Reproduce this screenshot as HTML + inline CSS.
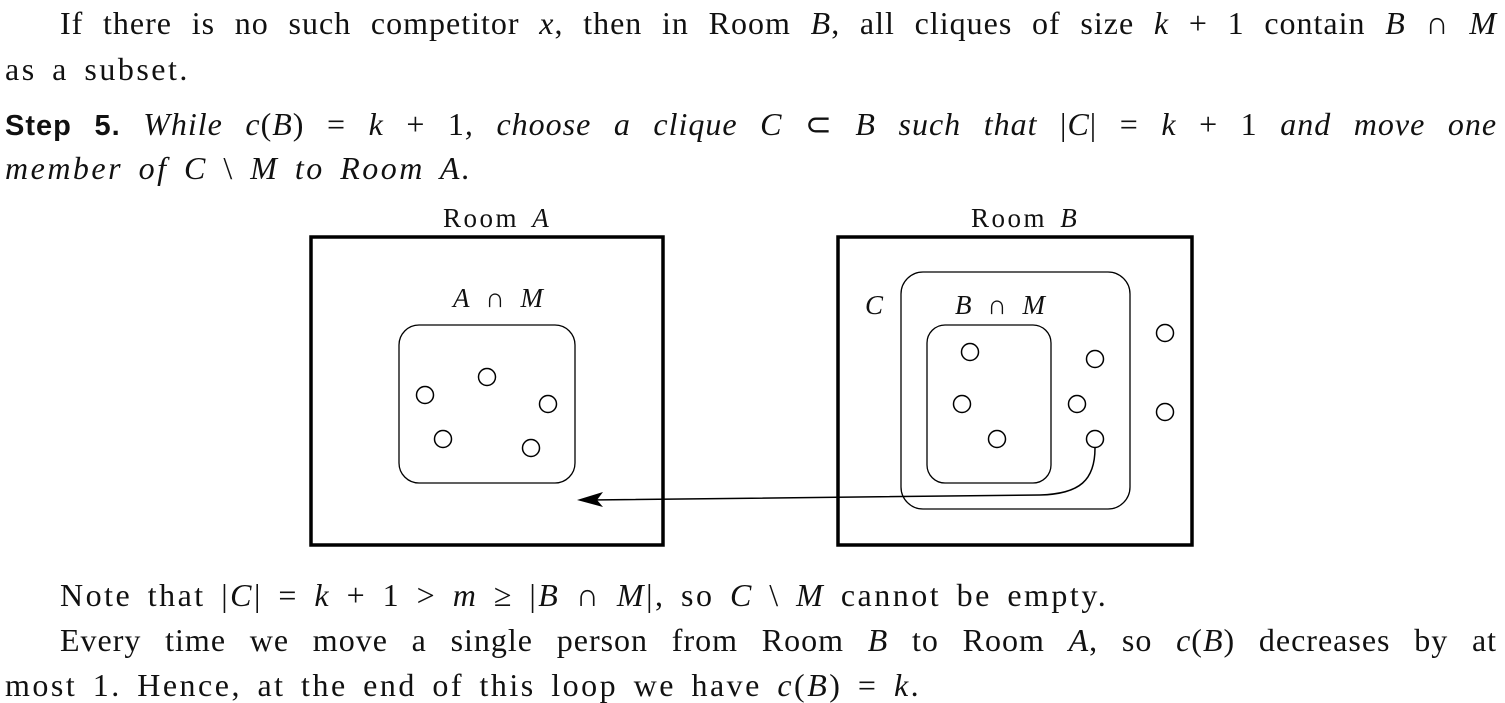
<!DOCTYPE html>
<html><head><meta charset="utf-8"><style>
html,body{margin:0;padding:0;background:#fff;}
body{width:1505px;height:703px;position:relative;overflow:hidden;font-family:"Liberation Serif",serif;font-size:32px;color:#111;letter-spacing:2.5px;word-spacing:5px;}
.l{position:absolute;white-space:nowrap;line-height:36px;}
.j{text-align:justify;text-align-last:justify;white-space:normal;letter-spacing:1px;word-spacing:0;}
i{font-style:italic;}
.s{font-size:27px;letter-spacing:2.5px;word-spacing:4px;}
</style></head><body>
<div class="l j" style="left:60px;top:5px;width:1437px;">If there is no such competitor <i>x</i>, then in Room <i>B</i>, all cliques of size <i>k</i> + 1 contain <i>B</i> ∩ <i>M</i></div>
<div class="l" style="left:5px;top:51px;">as a subset.</div>
<div class="l j" style="left:5px;top:106px;width:1492px;"><b style="font-family:'Liberation Sans',sans-serif;font-size:29px;">Step 5.</b> <i>While c</i>(<i>B</i>) = <i>k</i> + 1<i>, choose a clique C</i> ⊂ <i>B such that</i> |<i>C</i>| = <i>k</i> + 1 <i>and move one</i></div>
<div class="l" style="left:5px;top:150px;"><i>member of C</i> \ <i>M to Room A.</i></div>
<div class="l s" style="left:443px;top:200px;">Room <i>A</i></div>
<div class="l s" style="left:971px;top:200px;">Room <i>B</i></div>
<div class="l s" style="left:453px;top:280px;"><i>A</i> ∩ <i>M</i></div>
<div class="l s" style="left:865px;top:287px;"><i>C</i></div>
<div class="l s" style="left:955px;top:287px;"><i>B</i> ∩ <i>M</i></div>
<svg style="position:absolute;left:0;top:0" width="1505" height="703">
<g fill="none" stroke="#000">
<rect x="311" y="237" width="352" height="308" stroke-width="3.5"/>
<rect x="838" y="237" width="354" height="308" stroke-width="3.5"/>
<rect x="399" y="325" width="176" height="158" rx="20" stroke-width="1.3"/>
<rect x="901" y="272" width="229" height="237" rx="22" stroke-width="1.3"/>
<rect x="927" y="325" width="124" height="158" rx="18" stroke-width="1.3"/>
<g stroke-width="1.5">
<circle cx="425" cy="395" r="8.5"/><circle cx="487" cy="377" r="8.5"/><circle cx="548" cy="404" r="8.5"/><circle cx="443" cy="439" r="8.5"/><circle cx="531" cy="448" r="8.5"/>
<circle cx="970" cy="352" r="8.5"/><circle cx="962" cy="404" r="8.5"/><circle cx="997" cy="439" r="8.5"/><circle cx="1095" cy="359" r="8.5"/><circle cx="1077" cy="404" r="8.5"/><circle cx="1095" cy="439" r="8.5"/><circle cx="1165" cy="333" r="8.5"/><circle cx="1165" cy="412" r="8.5"/>
</g>
<path d="M1095 448 C1095 480 1080 494 1040 495 L590 500" stroke-width="1.5"/>
</g>
<path d="M577 500 L603 492 L597 500 L603 507 Z" fill="#000"/>
</svg>
<div class="l" style="left:60px;top:577px;">Note that |<i>C</i>| = <i>k</i> + 1 &gt; <i>m</i> ≥ |<i>B</i> ∩ <i>M</i>|, so <i>C</i> \ <i>M</i> cannot be empty.</div>
<div class="l j" style="left:60px;top:622px;width:1437px;">Every time we move a single person from Room <i>B</i> to Room <i>A</i>, so <i>c</i>(<i>B</i>) decreases by at</div>
<div class="l" style="left:5px;top:667px;">most 1. Hence, at the end of this loop we have <i>c</i>(<i>B</i>) = <i>k</i>.</div>
</body></html>
